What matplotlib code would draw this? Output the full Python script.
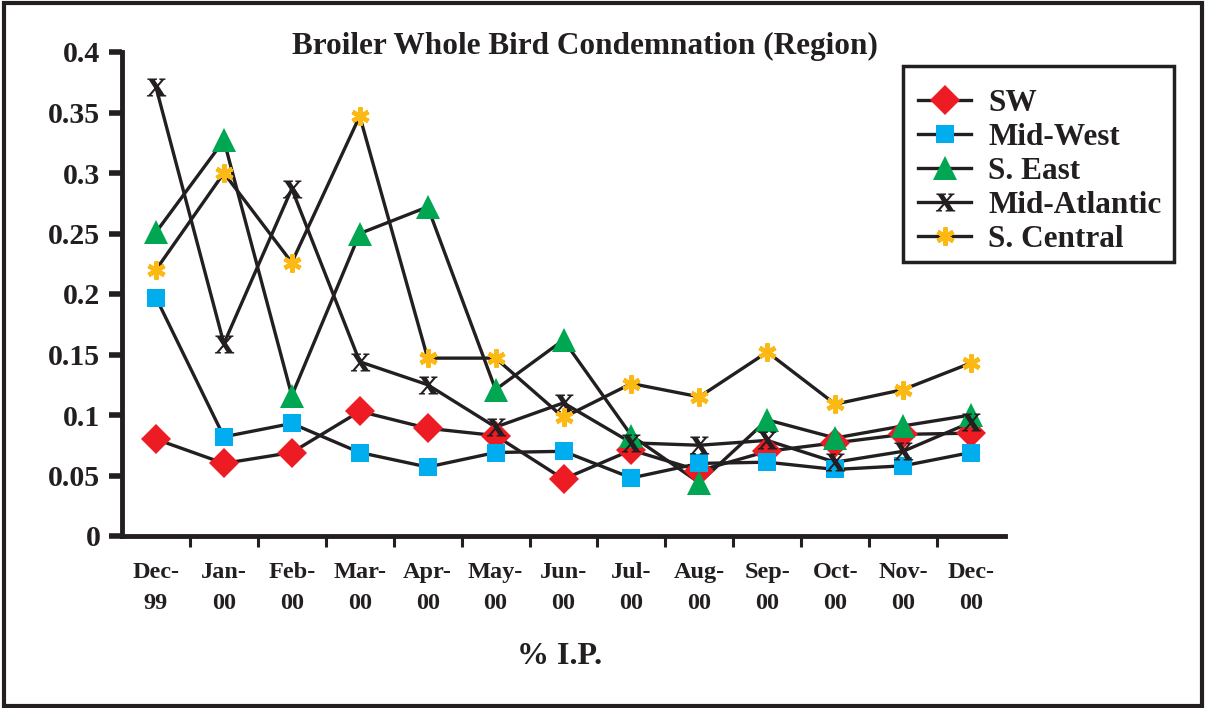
import numpy as np
import matplotlib
matplotlib.use("Agg")
import matplotlib.pyplot as plt
from matplotlib.patches import Rectangle
from matplotlib.textpath import TextPath
from matplotlib.font_manager import FontProperties
from matplotlib.path import Path
from matplotlib.lines import Line2D

months = ["Dec-\n99", "Jan-\n00", "Feb-\n00", "Mar-\n00", "Apr-\n00", "May-\n00", "Jun-\n00",
          "Jul-\n00", "Aug-\n00", "Sep-\n00", "Oct-\n00", "Nov-\n00", "Dec-\n00"]
sw = [0.080, 0.060, 0.069, 0.103, 0.089, 0.083, 0.047, 0.071, 0.054, 0.070, 0.077, 0.084, 0.085]
mid_west = [0.197, 0.082, 0.093, 0.069, 0.057, 0.069, 0.070, 0.048, 0.060, 0.061, 0.055, 0.058, 0.069]
s_east = [0.251, 0.327, 0.116, 0.250, 0.272, 0.121, 0.162, 0.083, 0.044, 0.096, 0.081, 0.091, 0.100]
mid_atlantic = [0.371, 0.159, 0.287, 0.144, 0.125, 0.090, 0.110, 0.077, 0.075, 0.079, 0.061, 0.070, 0.094]
s_central = [0.220, 0.300, 0.226, 0.347, 0.147, 0.147, 0.098, 0.126, 0.115, 0.152, 0.109, 0.121, 0.143]
series_names = ["SW", "Mid-West", "S. East", "Mid-Atlantic", "S. Central"]
yticks = [0, 0.05, 0.1, 0.15, 0.2, 0.25, 0.3, 0.35, 0.4]
ylabels = ["0", "0.05", "0.1", "0.15", "0.2", "0.25", "0.3", "0.35", "0.4"]

FONT = "Liberation Serif"
plt.rcParams["font.family"] = FONT
plt.rcParams["font.weight"] = "bold"

# x marker built from a bold serif glyph
tp = TextPath((0, 0), "x", prop=FontProperties(family=FONT, weight="bold"))
v = tp.vertices.copy()
v[:, 0] -= (v[:, 0].min() + v[:, 0].max()) / 2
v[:, 1] -= (v[:, 1].min() + v[:, 1].max()) / 2
x_marker = Path(v, tp.codes)

styles = [
    dict(marker="D", mfc="#ED1C24", mec="#ED1C24", ms=15, mew=0),
    dict(marker="s", mfc="#00AEEF", mec="#00AEEF", ms=13, mew=0),
    dict(marker="^", mfc="#00A651", mec="#00A651", ms=17, mew=0),
    dict(marker=x_marker, mfc="#231F20", mec="#231F20", ms=14, mew=0),
    dict(marker=(6, 2, 0), mfc="#FDB913", mec="#FDB913", ms=13, mew=3.2),
]
data = [sw, mid_west, s_east, mid_atlantic, s_central]

W, H = 1205, 708
fig = plt.figure(figsize=(W / 100, H / 100), dpi=100)
ax = fig.add_axes([122 / W, 1 - 536 / H, 883 / W, 484 / H])
x = np.arange(len(months))
lc = "#231F20"
for vals in data:
    ax.plot(x, vals, color=lc, lw=2.4, zorder=2)
for vals, st in zip(data, styles):
    ax.plot(x, vals, ls="none", zorder=3, **st)

ax.set_xlim(-0.5, len(months) - 0.5)
ax.set_ylim(0, 0.4)
ax.set_yticks(yticks)
ax.set_yticklabels(ylabels, fontsize=21.5, fontweight="bold", color=lc)
ax.tick_params(axis="y", length=9.5, width=4, color=lc, pad=6)
ax.set_xticks(np.arange(len(months) - 1) + 0.5)
ax.set_xticklabels([])
ax.tick_params(axis="x", which="major", length=8, width=2.2, color=lc)
ax.set_xticks(x, minor=True)
ax.set_xticklabels(months, minor=True, fontsize=17.5, fontweight="bold", color=lc, linespacing=1.6)
ax.tick_params(axis="x", which="minor", length=0, pad=19)
for s in ["top", "right"]:
    ax.spines[s].set_visible(False)
for s in ["left", "bottom"]:
    ax.spines[s].set_linewidth(3.5)
    ax.spines[s].set_color(lc)

fig.text(585 / W, 1 - 46 / H, "Broiler Whole Bird Condemnation (Region)", ha="center", va="center",
         fontsize=22.5, fontweight="bold", color=lc)
fig.text(560 / W, 1 - 657 / H, "% I.P.", ha="center", va="center", fontsize=23, fontweight="bold", color=lc)

handles = [Line2D([0], [0], color=lc, lw=2.4, **st) for st in styles]
leg = fig.legend(handles, series_names, loc="upper left", bbox_to_anchor=(918 / W, 1 - 89 / H),
                 frameon=False, prop=FontProperties(family=FONT, weight="bold", size=22.5),
                 handlelength=1.7, handletextpad=0.55, labelspacing=0.16, borderpad=0, borderaxespad=0)
for t in leg.get_texts():
    t.set_color(lc)
fig.patches.append(Rectangle((903 / W, 1 - 262 / H), 271 / W, 196 / H, transform=fig.transFigure,
                             fill=False, lw=2.5, edgecolor=lc))

fig.patches.append(Rectangle((4 / W, 2 / H), 1198 / W, 703 / H, transform=fig.transFigure,
                             fill=False, lw=3, edgecolor=lc))
fig.savefig("out.png", dpi=100)
